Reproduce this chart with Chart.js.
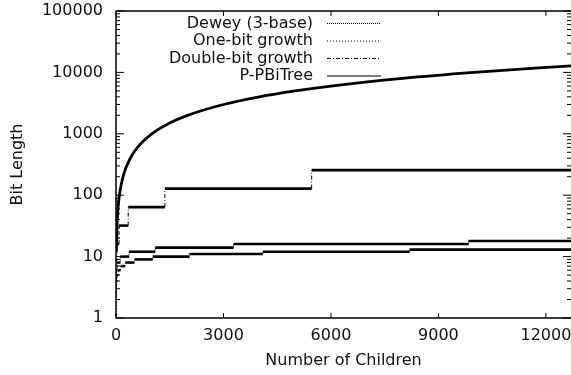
<!DOCTYPE html>
<html>
<head>
<meta charset="utf-8">
<script src="https://cdn.jsdelivr.net/npm/chart.js@4.4.1/dist/chart.umd.min.js"></script>
<style>
  html, body { margin: 0; padding: 0; background: #fff; }
  #wrap { width: 571px; height: 375px; }
</style>
</head>
<body>
<div id="wrap"><canvas id="chart" width="571" height="375"></canvas></div>
<script>
// each step: number of children where it starts, bit length on it
const deweyStarts = [1, 4, 13, 40, 121, 364, 1093, 3280, 9841];
const deweyBits = [2, 4, 6, 8, 10, 12, 14, 16, 18];
const oneBitStarts = [2, 4, 8, 16, 32, 64, 128, 256, 512, 1024, 2048, 4096, 8192];
const oneBitBits = [1, 2, 3, 4, 5, 6, 7, 8, 9, 10, 11, 12, 13];
const doubleBitStarts = [1, 5, 21, 85, 341, 1365, 5461];
const doubleBitBits = [4, 8, 16, 32, 64, 128, 256];
// P-PBiTree curve
const pbiChildren = [10, 30, 60, 100, 200, 400, 700, 1000, 1500, 2000, 3000, 4000, 5000, 6000, 8000, 10000, 12700];
const pbiBits = [12, 34, 65, 105, 205, 400, 700, 1000, 1500, 2000, 3000, 4000, 5000, 6000, 8000, 10000, 12800];

const xEnd = 12700;
const xTicks = [0, 3000, 6000, 9000, 12000];
const yTicks = [1, 10, 100, 1000, 10000, 100000];

function steps(starts, bits) {
  const pts = [];
  starts.forEach((s, i) => {
    if (i > 0) pts.push({ x: s, y: bits[i - 1] });
    pts.push({ x: s, y: bits[i] });
  });
  pts.push({ x: xEnd, y: bits[bits.length - 1] });
  return pts;
}

const vertical = ctx => Math.abs(ctx.p0.x - ctx.p1.x) < 0.01;

function stepSet(label, data, dash) {
  return {
    label: label,
    data: data,
    borderColor: '#000',
    pointRadius: 0,
    fill: false,
    legendDash: dash,
    segment: {
      borderDash: ctx => vertical(ctx) ? dash : [],
      borderWidth: ctx => vertical(ctx) ? 1 : 2.6
    }
  };
}

const datasets = [
  stepSet('Dewey (3-base)', steps(deweyStarts, deweyBits), [1, 1]),
  stepSet('One-bit growth', steps(oneBitStarts, oneBitBits), [1, 2]),
  stepSet('Double-bit growth', steps(doubleBitStarts, doubleBitBits), [4, 2, 1, 2]),
  {
    label: 'P-PBiTree',
    data: pbiChildren.map((c, i) => ({ x: c, y: pbiBits[i] })),
    borderColor: '#000',
    borderWidth: 2.8,
    pointRadius: 0,
    fill: false,
    cubicInterpolationMode: 'monotone',
    legendDash: []
  }
];

// frame, inward ticks and the gnuplot style legend
const framePlugin = {
  id: 'frame',
  afterDraw(chart) {
    const { ctx, chartArea: a, scales } = chart;
    ctx.save();
    ctx.strokeStyle = '#000';
    ctx.lineWidth = 1.5;
    ctx.beginPath();
    ctx.moveTo(a.right + 1, a.top);
    ctx.lineTo(a.left, a.top);
    ctx.lineTo(a.left, a.bottom);
    ctx.lineTo(a.right + 1, a.bottom);
    ctx.stroke();

    ctx.lineWidth = 1;
    ctx.beginPath();
    xTicks.forEach(v => {
      const px = scales.x.getPixelForValue(v);
      ctx.moveTo(px, a.bottom); ctx.lineTo(px, a.bottom - 5);
      ctx.moveTo(px, a.top); ctx.lineTo(px, a.top + 5);
    });
    yTicks.forEach((v, i) => {
      const py = scales.y.getPixelForValue(v);
      ctx.moveTo(a.left, py); ctx.lineTo(a.left + 8, py);
      ctx.moveTo(a.right, py); ctx.lineTo(a.right - 8, py);
      if (i < yTicks.length - 1) {
        for (let m = 2; m < 10; m++) {
          const pm = scales.y.getPixelForValue(v * m);
          ctx.moveTo(a.left, pm); ctx.lineTo(a.left + 4, pm);
          ctx.moveTo(a.right, pm); ctx.lineTo(a.right - 4, pm);
        }
      }
    });
    ctx.stroke();

    ctx.font = '16px "DejaVu Sans"';
    ctx.fillStyle = '#111';
    ctx.textAlign = 'right';
    ctx.textBaseline = 'middle';
    chart.data.datasets.forEach((ds, i) => {
      const y = 23.5 + i * 17.5;
      ctx.fillText(ds.label, 313, y);
      ctx.setLineDash(ds.legendDash);
      ctx.lineWidth = 1.2;
      ctx.beginPath();
      ctx.moveTo(327, y); ctx.lineTo(381, y);
      ctx.stroke();
    });
    ctx.restore();
  }
};

Chart.defaults.font.family = '"DejaVu Sans"';
Chart.defaults.font.size = 16;
Chart.defaults.color = '#111';

new Chart(document.getElementById('chart'), {
  type: 'line',
  data: { datasets: datasets },
  options: {
    responsive: false,
    animation: false,
    devicePixelRatio: 1,
    layout: { padding: { top: 11, right: 0, left: 0, bottom: 0 } },
    plugins: { legend: { display: false }, tooltip: { enabled: false } },
    scales: {
      x: {
        type: 'linear',
        min: 0,
        max: xEnd,
        grid: { display: false, drawTicks: false },
        border: { display: false },
        afterBuildTicks: s => { s.ticks = xTicks.map(v => ({ value: v })); },
        afterFit: s => { s.height = 57; s.paddingLeft = 0; s.paddingRight = 0; },
        ticks: { padding: 8, maxRotation: 0, callback: v => String(v) },
        title: { display: true, text: 'Number of Children', padding: { top: 0, bottom: 5 } }
      },
      y: {
        type: 'logarithmic',
        min: 1,
        max: 100000,
        grid: { display: false, drawTicks: false },
        border: { display: false },
        afterBuildTicks: s => { s.ticks = yTicks.map(v => ({ value: v })); },
        afterFit: s => { s.width = 116; s.paddingTop = 0; s.paddingBottom = 0; },
        ticks: { padding: 13, callback: v => String(v) },
        title: { display: true, text: 'Bit Length', padding: { top: 8, bottom: 0 } }
      }
    }
  },
  plugins: [framePlugin]
});
</script>
</body>
</html>
